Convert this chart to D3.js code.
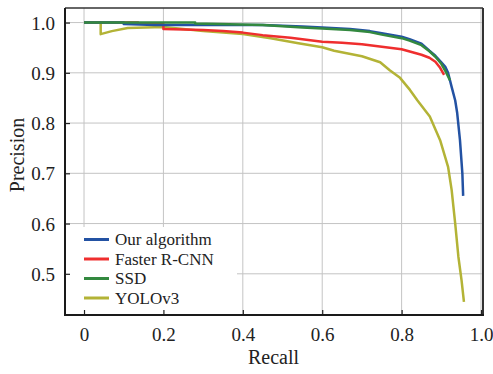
<!DOCTYPE html>
<html>
<head>
<meta charset="utf-8">
<script src="https://cdn.jsdelivr.net/npm/d3@7"></script>
<style>
  html, body { margin: 0; padding: 0; background: #fff; }
  svg { display: block; }
  text { font-family: "Liberation Serif", "Times New Roman", serif; fill: #222; }
</style>
</head>
<body>
<div id="chart"></div>
<script>
// ---- data ----
const seriesNames = ["Our algorithm", "Faster R-CNN", "SSD", "YOLOv3"];
const seriesColors = ["#2352a3", "#ef2e2e", "#33893f", "#b3b336"];

const ourRecall    = [0, 0.10, 0.10, 0.18, 0.30, 0.45, 0.55, 0.60, 0.67, 0.72, 0.75, 0.80, 0.82, 0.85, 0.87, 0.885, 0.90, 0.91, 0.917, 0.926, 0.935, 0.94, 0.947, 0.953, 0.955];
const ourPrecision = [1.0, 1.0, 0.997, 0.995, 0.995, 0.995, 0.992, 0.99, 0.987, 0.983, 0.979, 0.972, 0.967, 0.958, 0.944, 0.934, 0.921, 0.912, 0.90, 0.872, 0.845, 0.82, 0.766, 0.70, 0.655];

const frcnnRecall    = [0, 0.136, 0.136, 0.2, 0.2, 0.3, 0.35, 0.4, 0.45, 0.52, 0.6, 0.65, 0.7, 0.75, 0.8, 0.85, 0.87, 0.885, 0.897, 0.907];
const frcnnPrecision = [1.0, 1.0, 0.998, 0.997, 0.987, 0.985, 0.983, 0.98, 0.975, 0.97, 0.962, 0.96, 0.957, 0.952, 0.947, 0.936, 0.93, 0.922, 0.91, 0.896];

const ssdRecall    = [0, 0.28, 0.28, 0.45, 0.55, 0.6, 0.67, 0.72, 0.75, 0.80, 0.82, 0.85, 0.87, 0.885, 0.90, 0.91, 0.922];
const ssdPrecision = [1.0, 1.0, 0.998, 0.995, 0.99, 0.988, 0.985, 0.981, 0.976, 0.969, 0.964, 0.955, 0.943, 0.932, 0.918, 0.904, 0.885];

const yoloRecall    = [0, 0.042, 0.042, 0.07, 0.11, 0.2, 0.3, 0.4, 0.47, 0.54, 0.6, 0.63, 0.7, 0.746, 0.77, 0.796, 0.821, 0.84, 0.871, 0.897, 0.917, 0.926, 0.935, 0.943, 0.951, 0.957];
const yoloPrecision = [1.0, 1.0, 0.977, 0.983, 0.989, 0.991, 0.983, 0.977, 0.969, 0.959, 0.951, 0.944, 0.933, 0.921, 0.905, 0.89, 0.866, 0.845, 0.813, 0.766, 0.713, 0.667, 0.60, 0.534, 0.487, 0.444];

const xTicks = [0, 0.2, 0.4, 0.6, 0.8, 1.0];
const yTicks = [0.5, 0.6, 0.7, 0.8, 0.9, 1.0];
const xLabel = "Recall";
const yLabel = "Precision";

// ---- layout ----
const W = 493, H = 374;
const L = 65, R = 483, T = 8, B = 315;

const x = d3.scaleLinear().domain([-0.0479, 1.005]).range([L, R]);
const y = d3.scaleLinear().domain([0.418, 1.029]).range([B, T]);

const svg = d3.select("#chart").append("svg").attr("width", W).attr("height", H);

// grid
svg.append("g").selectAll("line").data(xTicks).join("line")
  .attr("x1", d => x(d)).attr("x2", d => x(d)).attr("y1", T).attr("y2", B)
  .attr("stroke", "#c4c4c4").attr("stroke-width", 1);
svg.append("g").selectAll("line").data(yTicks).join("line")
  .attr("x1", L).attr("x2", R).attr("y1", d => y(d)).attr("y2", d => y(d))
  .attr("stroke", "#c4c4c4").attr("stroke-width", 1);

// series
const series = [
  { r: ourRecall, p: ourPrecision },
  { r: frcnnRecall, p: frcnnPrecision },
  { r: ssdRecall, p: ssdPrecision },
  { r: yoloRecall, p: yoloPrecision }
];
const line = d3.line().x(d => x(d[0])).y(d => y(d[1]));
const drawOrder = [3, 1, 0, 2];
drawOrder.forEach(i => {
  const s = series[i];
  const pts = s.r.map((rv, k) => [rv, s.p[k]]);
  svg.append("path").datum(pts).attr("d", line)
    .attr("fill", "none").attr("stroke", seriesColors[i])
    .attr("stroke-width", 2.5).attr("stroke-linejoin", "round");
});

// legend background
svg.append("rect").attr("x", L + 1).attr("y", 227).attr("width", 171).attr("height", B - 228)
  .attr("fill", "#fff");

// axes
const xAxis = d3.axisBottom(x).tickValues(xTicks).tickSizeInner(-5).tickSizeOuter(0)
  .tickFormat(d => d === 0 ? "0" : d3.format(".1f")(d));
const gx = svg.append("g").attr("transform", `translate(0,${B})`).call(xAxis);
gx.select(".domain").remove();
gx.selectAll(".tick line").attr("stroke", "#222").attr("stroke-width", 1.2);
gx.selectAll(".tick text").attr("y", 13).attr("dy", "0.71em")
  .style("font-family", "'Liberation Serif', serif").style("font-size", "19px").attr("fill", "#222");

const yAxis = d3.axisLeft(y).tickValues(yTicks).tickSizeInner(-5).tickSizeOuter(0)
  .tickFormat(d3.format(".1f"));
const gy = svg.append("g").attr("transform", `translate(${L},0)`).call(yAxis);
gy.select(".domain").remove();
gy.selectAll(".tick line").attr("stroke", "#222").attr("stroke-width", 1.2);
gy.selectAll(".tick text").attr("x", -10).attr("dy", "0.35em")
  .style("font-family", "'Liberation Serif', serif").style("font-size", "19px").attr("fill", "#222");

// frame
svg.append("line").attr("x1", L).attr("x2", R).attr("y1", T).attr("y2", T).attr("stroke", "#333").attr("stroke-width", 1.5);
svg.append("line").attr("x1", R).attr("x2", R).attr("y1", T).attr("y2", B).attr("stroke", "#333").attr("stroke-width", 2);
svg.append("line").attr("x1", L).attr("x2", L).attr("y1", T).attr("y2", B + 1).attr("stroke", "#1a1a1a").attr("stroke-width", 2);
svg.append("line").attr("x1", L - 1).attr("x2", R + 1).attr("y1", B).attr("y2", B).attr("stroke", "#1a1a1a").attr("stroke-width", 2);

// axis labels
svg.append("text").attr("x", (x(0) + x(1)) / 2 - 9).attr("y", 364).attr("text-anchor", "middle")
  .style("font-size", "20px").text(xLabel);
svg.append("text").attr("transform", `translate(24,155) rotate(-90)`).attr("text-anchor", "middle")
  .style("font-size", "20px").text(yLabel);

// legend
const legY = [239.5, 259, 278.5, 298];
const leg = svg.append("g");
seriesNames.forEach((name, i) => {
  leg.append("line").attr("x1", 84).attr("x2", 109).attr("y1", legY[i]).attr("y2", legY[i])
    .attr("stroke", seriesColors[i]).attr("stroke-width", 3);
  leg.append("text").attr("x", 115).attr("y", legY[i]).attr("dy", "0.35em")
    .style("font-size", "17px").text(name);
});
</script>
</body>
</html>
